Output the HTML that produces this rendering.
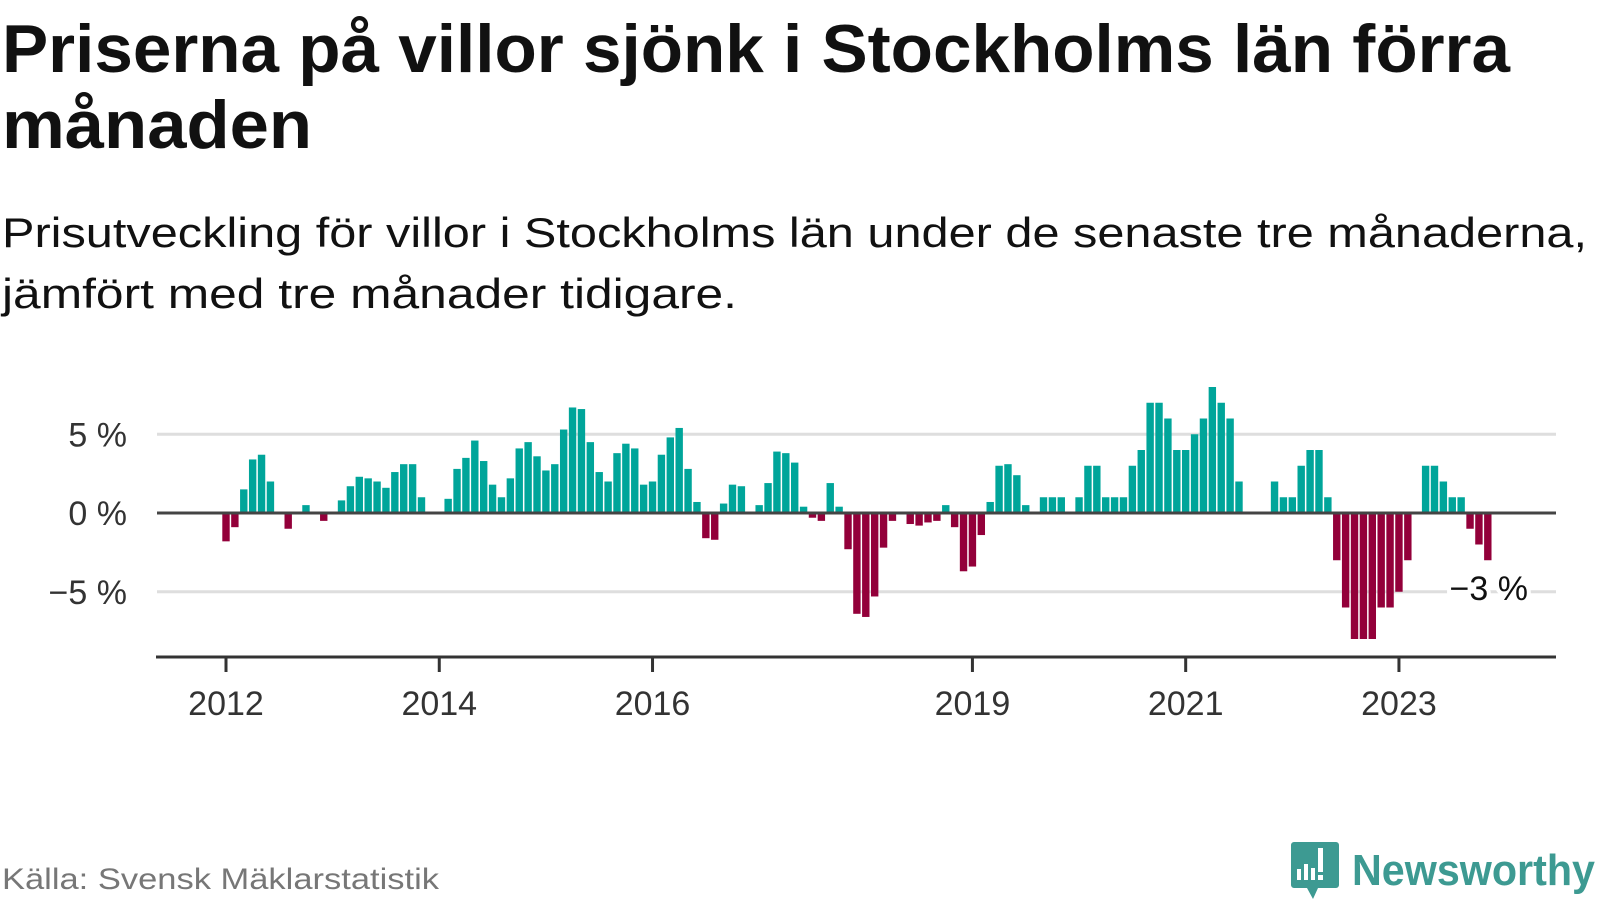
<!DOCTYPE html>
<html><head><meta charset="utf-8"><style>
html,body{margin:0;padding:0;background:#fff;}
svg{display:block;font-family:"Liberation Sans",sans-serif;}
</style></head><body>
<svg id="chart" width="1600" height="900" viewBox="0 0 1600 900">
<text x="2" y="72" font-size="68" font-weight="bold" fill="#111" textLength="1508" lengthAdjust="spacingAndGlyphs">Priserna på villor sjönk i Stockholms län förra</text>
<text x="2" y="148" font-size="68" font-weight="bold" fill="#111" textLength="310" lengthAdjust="spacingAndGlyphs">månaden</text>
<text x="2" y="247" font-size="42" fill="#111" textLength="1585" lengthAdjust="spacingAndGlyphs">Prisutveckling för villor i Stockholms län under de senaste tre månaderna,</text>
<text x="2" y="308" font-size="42" fill="#111" textLength="735" lengthAdjust="spacingAndGlyphs">jämfört med tre månader tidigare.</text>
<g id="grid"></g>
<g id="ylabels"></g>
<g id="bars"></g>
<line x1="157" x2="1556" y1="513" y2="513" stroke="#444" stroke-width="3"/>
<line x1="156" x2="1556" y1="657" y2="657" stroke="#333" stroke-width="3"/>
<g id="xticks"></g>
<text id="annot" x="1528" y="600" font-size="34" fill="#111" text-anchor="end" stroke="#fff" stroke-width="8" paint-order="stroke">−3 %</text>
<text x="2" y="889" font-size="30" fill="#777" textLength="437" lengthAdjust="spacingAndGlyphs">Källa: Svensk Mäklarstatistik</text>
<g>
<path d="M1294 842 h42 a3 3 0 0 1 3 3 v40 a3 3 0 0 1 -3 3 h-18 l-5 11 l-6 -11 h-13 a3 3 0 0 1 -3 -3 v-40 a3 3 0 0 1 3 -3z" fill="#3d9a92"/>
<rect x="1297" y="869" width="4" height="11" fill="#fff"/>
<rect x="1304" y="864" width="4" height="16" fill="#fff"/>
<rect x="1311" y="868" width="4" height="12" fill="#fff"/>
<rect x="1318" y="848" width="5" height="24" fill="#fff"/>
<rect x="1318" y="875" width="5" height="5" fill="#fff"/>
<text x="1352" y="885" font-size="44" font-weight="bold" fill="#3d9a92" textLength="243" lengthAdjust="spacingAndGlyphs">Newsworthy</text>
</g>
</svg>
<script>
const values = [-1.8,-0.9,1.5,3.4,3.7,2.0,0,-1.0,0,0.5,0,-0.5,
0,0.8,1.7,2.3,2.2,2.0,1.6,2.6,3.1,3.1,1.0,0,
0,0.9,2.8,3.5,4.6,3.3,1.8,1.0,2.2,4.1,4.5,3.6,
2.7,3.1,5.3,6.7,6.6,4.5,2.6,2.0,3.8,4.4,4.1,1.8,
2.0,3.7,4.8,5.4,2.8,0.7,-1.6,-1.7,0.6,1.8,1.7,0,
0.5,1.9,3.9,3.8,3.2,0.4,-0.3,-0.5,1.9,0.4,-2.3,-6.4,
-6.6,-5.3,-2.2,-0.5,0,-0.7,-0.8,-0.6,-0.5,0.5,-0.9,-3.7,
-3.4,-1.4,0.7,3.0,3.1,2.4,0.5,0,1.0,1.0,1.0,0,
1.0,3.0,3.0,1.0,1.0,1.0,3.0,4.0,7.0,7.0,6.0,4.0,
4.0,5.0,6.0,8.0,7.0,6.0,2.0,0,0,0,2.0,1.0,
1.0,3.0,4.0,4.0,1.0,-3.0,-6.0,-8.0,-8.0,-8.0,-6.0,-6.0,
-5.0,-3.0,0,3.0,3.0,2.0,1.0,1.0,-1.0,-2.0,-3.0];
const startYear = 2012;
const yTicks = [5,0,-5];
const yTickLabels = ["5 %","0 %","−5 %"];
const xTickYears = [2012,2014,2016,2019,2021,2023];
const NS="http://www.w3.org/2000/svg";
const x0=226, step=8.886, yZero=513, pxPerPct=15.75;
function xScale(i){return x0+i*step;}
function yScale(v){return yZero-v*pxPerPct;}
function mk(tag,attrs,parent){const e=document.createElementNS(NS,tag);for(const k in attrs)e.setAttribute(k,attrs[k]);parent.appendChild(e);return e;}
const grid=document.getElementById('grid'), yl=document.getElementById('ylabels');
yTicks.forEach((t,i)=>{
  if(t!==0){const l=mk('line',{x1:157,x2:1556,y1:yScale(t),y2:yScale(t),stroke:'#dedede','stroke-width':3},grid);
  
  }
  const tx=mk('text',{x:127,y:yScale(t)+12,'font-size':34,fill:'#333','text-anchor':'end'},yl);
  tx.textContent=yTickLabels[i];
  
  
});
const bars=document.getElementById('bars');
values.forEach((v,i)=>{
  if(v===0)return;
  const y=v>0?yScale(v):yZero;
  const r=mk('rect',{x:xScale(i)-3.7,y:y,width:7.4,height:Math.abs(v)*pxPerPct,fill:v>0?'#00a59a':'#93003a'},bars);
  
  
});
const xt=document.getElementById('xticks');
xTickYears.forEach(yr=>{
  const x=xScale((yr-startYear)*12);
  const l=mk('line',{x1:x,x2:x,y1:657,y2:672,stroke:'#333','stroke-width':3},xt);
  
  
  const t=mk('text',{x:x,y:715,'font-size':34,fill:'#333','text-anchor':'middle'},xt);
  t.textContent=yr;
  
  
});
const last=values[values.length-1];
const an=document.getElementById('annot');
an.textContent=(last<0?'−':'')+Math.abs(last)+' %';
</script>
</body></html>
